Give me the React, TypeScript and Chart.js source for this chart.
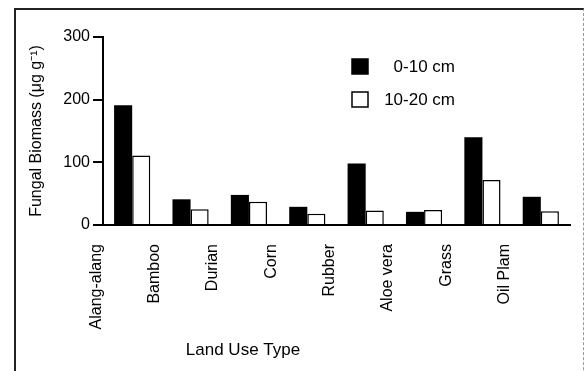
import React, { useEffect, useRef } from "react";
import { Chart, registerables } from "chart.js";

Chart.register(...registerables);

const categories = ["Alang-alang", "Bamboo", "Durian", "Corn", "Rubber", "Aloe vera", "Grass", "Oil Plam"];
const depth0to10 = [191, 41, 48, 29, 98, 21, 140, 45];
const depth10to20 = [111, 25, 37, 18, 23, 24, 72, 22];
const seriesNames = ["0-10 cm", "10-20 cm"];
const yTicks = [0, 100, 200, 300];
const yTitle = "Fungal Biomass (\u03bcg g\u207b\u00b9)";
const xTitle = "Land Use Type";

const FONT = "'Liberation Sans', Arial, Helvetica, sans-serif";

const overlayPlugin = {
  id: "overlay",
  afterDraw(chart: any) {
    const ctx = chart.ctx;
    ctx.save();
    // legend
    const sq = 16;
    const lx = 352;
    const rows = [
      { y: 59, fill: "#000", label: seriesNames[0] },
      { y: 92, fill: "#fff", label: seriesNames[1] },
    ];
    ctx.font = `17px ${FONT}`;
    ctx.textBaseline = "middle";
    ctx.textAlign = "right";
    rows.forEach((r) => {
      ctx.fillStyle = r.fill;
      ctx.fillRect(lx, r.y, sq, 15);
      ctx.strokeStyle = "#000";
      ctx.lineWidth = 1.5;
      ctx.strokeRect(lx, r.y, sq, 15);
      ctx.fillStyle = "#000";
      ctx.fillText(r.label, 455, r.y + 8);
    });
    // x axis title
    ctx.textAlign = "center";
    ctx.font = `17px ${FONT}`;
    ctx.fillText(xTitle, 243, 350);
    ctx.restore();
  },
};

export default function App() {
  const ref = useRef<HTMLCanvasElement | null>(null);

  useEffect(() => {
    document.body.style.margin = "0";
    const chart = new Chart(ref.current as HTMLCanvasElement, {
      type: "bar",
      data: {
        labels: categories,
        datasets: [
          {
            label: seriesNames[0],
            data: depth0to10,
            backgroundColor: "#000",
            borderColor: "#000",
            borderWidth: 0,
          },
          {
            label: seriesNames[1],
            data: depth10to20,
            backgroundColor: "#fff",
            borderColor: "#000",
            borderWidth: 1.5,
          },
        ],
      },
      options: {
        animation: false,
        responsive: false,
        layout: { padding: { left: 23, top: 37, right: 17, bottom: 0 } },
        datasets: { bar: { categoryPercentage: 0.62, barPercentage: 1.0 } },
        plugins: { legend: { display: false }, tooltip: { enabled: false } },
        scales: {
          x: {
            type: "category",
            grid: { display: true, drawOnChartArea: false, drawTicks: false },
            border: { display: true, color: "#000", width: 2 },
            ticks: {
              color: "#000",
              font: { family: FONT, size: 16 },
              minRotation: 90,
              maxRotation: 90,
              padding: 19,
              labelOffset: -36,
              autoSkip: false,
            },
            afterFit: (s: any) => {
              s.height = 146;
            },
          },
          y: {
            min: 0,
            max: 300,
            afterBuildTicks: (s: any) => {
              s.ticks = yTicks.map((v) => ({ value: v }));
            },
            grid: {
              display: true,
              drawOnChartArea: false,
              drawTicks: true,
              tickLength: 10,
              color: "#000",
              lineWidth: 2,
            },
            border: { display: true, color: "#000", width: 2 },
            ticks: { color: "#000", font: { family: FONT, size: 16 }, padding: 3 },
            title: {
              display: true,
              text: yTitle,
              color: "#000",
              font: { family: FONT, size: 16 },
              padding: 4,
            },
            afterFit: (s: any) => {
              s.width = 80;
            },
          },
        },
      },
      plugins: [overlayPlugin],
    });
    return () => chart.destroy();
  }, []);

  return (
    <div style={{ position: "fixed", left: 0, top: 0, width: 587, height: 371, background: "#fff", overflow: "hidden" }}>
      <div
        style={{
          position: "absolute",
          left: 14,
          top: 8,
          width: 567,
          height: 420,
          borderLeft: "2px solid #222",
          borderTop: "2px solid #222",
          borderRight: "1px dashed #999",
        }}
      />
      <canvas ref={ref} width={587} height={371} style={{ position: "absolute", left: 0, top: 0 }} />
    </div>
  );
}
